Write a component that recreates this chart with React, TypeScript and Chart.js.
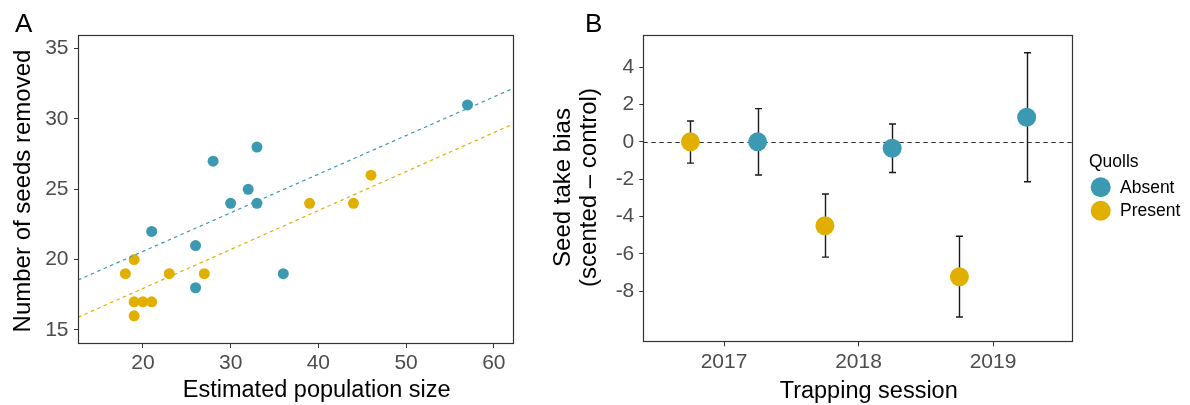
import React, { useEffect, useRef } from "react";
import { Chart, registerables } from "chart.js";

Chart.register(...registerables);

const FONT = "'Liberation Sans', Arial, Helvetica, sans-serif";
const BLUE = "#3B9AB2";
const GOLD = "#E1AF00";

// ---------- Panel A data ----------
const absentPopulation = [21, 26, 26, 28, 30, 32, 33, 33, 36, 57];
const absentSeeds = [22, 21, 18, 27, 24, 25, 24, 28, 19, 31];
const presentPopulation = [18, 19, 19, 19, 20, 21, 23, 27, 39, 44, 46];
const presentSeeds = [19, 20, 17, 16, 17, 17, 19, 19, 24, 24, 26];
const fitPopulation = [12.6, 62.3];
const absentFitSeeds = [18.55, 32.2];
const presentFitSeeds = [15.9, 29.67];
const popTicks = [20, 30, 40, 50, 60];
const popTickLabels = ["20", "30", "40", "50", "60"];
const seedTicks = [15, 20, 25, 30, 35];
const seedTickLabels = ["15", "20", "25", "30", "35"];

// ---------- Panel B data ----------
const sessions = [2017, 2018, 2019];
const sessionTickLabels = ["2017", "2018", "2019"];
const absentBias = [0, -0.34, 1.32];
const absentLow = [-1.78, -1.64, -2.14];
const absentHigh = [1.78, 0.96, 4.78];
const presentBias = [0, -4.5, -7.23];
const presentLow = [-1.14, -6.18, -9.39];
const presentHigh = [1.12, -2.8, -5.06];
const biasTicks = [-8, -6, -4, -2, 0, 2, 4];
const biasTickLabels = ["-8", "-6", "-4", "-2", "0", "2", "4"];
const dodge = 0.25;

type TextItem = {
  text: string;
  x: number;
  y: number;
  size: number;
  align?: CanvasTextAlign;
  rotate?: boolean;
  color?: string;
};

type ErrorBarSet = { x: number[]; lo: number[]; hi: number[] };

type DecorCfg = {
  texts: TextItem[];
  zeroLine?: boolean;
  errorBars?: ErrorBarSet[];
  legend?: { title: string; x: number; y: number; itemX: number; textX: number; firstY: number; step: number; r: number };
};

function makeDecor(cfg: DecorCfg) {
  return {
    id: "decor",
    beforeDatasetsDraw(chart: any) {
      const { ctx, chartArea: a, scales } = chart;
      ctx.save();
      if (cfg.zeroLine) {
        const y = Math.round(scales.y.getPixelForValue(0)) + 0.5;
        ctx.strokeStyle = "#333";
        ctx.lineWidth = 1;
        ctx.setLineDash([4.5, 3.5]);
        ctx.beginPath();
        ctx.moveTo(a.left, y);
        ctx.lineTo(a.right, y);
        ctx.stroke();
        ctx.setLineDash([]);
      }
      for (const eb of cfg.errorBars || []) {
        for (let i = 0; i < eb.x.length; i++) {
          const px = Math.round(scales.x.getPixelForValue(eb.x[i])) + 0.5;
          const yl = scales.y.getPixelForValue(eb.lo[i]);
          const yh = scales.y.getPixelForValue(eb.hi[i]);
          ctx.strokeStyle = "#1a1a1a";
          ctx.lineWidth = 1.4;
          ctx.beginPath();
          ctx.moveTo(px, yh);
          ctx.lineTo(px, yl);
          ctx.moveTo(px - 3.5, yh);
          ctx.lineTo(px + 3.5, yh);
          ctx.moveTo(px - 3.5, yl);
          ctx.lineTo(px + 3.5, yl);
          ctx.stroke();
        }
      }
      ctx.restore();
    },
    afterDraw(chart: any) {
      const { ctx, chartArea: a } = chart;
      ctx.save();
      // panel frame
      ctx.strokeStyle = "#333";
      ctx.lineWidth = 1.2;
      ctx.strokeRect(Math.round(a.left) + 0.5, Math.round(a.top) + 0.5, Math.round(a.right - a.left) - 1, Math.round(a.bottom - a.top) - 1);
      // texts
      for (const t of cfg.texts) {
        ctx.save();
        ctx.fillStyle = t.color || "#000";
        ctx.font = `${t.size}px ${FONT}`;
        ctx.textBaseline = "alphabetic";
        ctx.textAlign = t.align || "center";
        ctx.translate(t.x, t.y);
        if (t.rotate) ctx.rotate(-Math.PI / 2);
        ctx.fillText(t.text, 0, 0);
        ctx.restore();
      }
      // legend
      if (cfg.legend) {
        const L = cfg.legend;
        ctx.fillStyle = "#000";
        ctx.font = `17.5px ${FONT}`;
        ctx.textAlign = "left";
        ctx.textBaseline = "alphabetic";
        ctx.fillText(L.title, L.x, L.y);
        chart.data.datasets.forEach((ds: any, i: number) => {
          const cy = L.firstY + i * L.step;
          ctx.fillStyle = ds.backgroundColor;
          ctx.beginPath();
          ctx.arc(L.itemX, cy, L.r, 0, Math.PI * 2);
          ctx.fill();
          ctx.fillStyle = "#000";
          ctx.textBaseline = "middle";
          ctx.fillText(ds.label, L.textX, cy + 0.5);
        });
      }
      ctx.restore();
    },
  };
}

function axis(min: number, max: number, values: number[], labels: string[], size: { width?: number; height?: number }, padding: number) {
  return {
    type: "linear",
    min,
    max,
    afterBuildTicks: (s: any) => {
      s.ticks = values.map((v) => ({ value: v }));
    },
    afterFit: (s: any) => {
      if (size.width !== undefined) s.width = size.width;
      if (size.height !== undefined) s.height = size.height;
    },
    ticks: {
      autoSkip: false,
      maxRotation: 0,
      minRotation: 0,
      padding,
      color: "#4d4d4d",
      font: { family: FONT, size: 21 },
      callback: (_v: any, i: number) => labels[i],
    },
    grid: { display: true, drawOnChartArea: false, drawTicks: true, tickLength: 4, tickColor: "#333", tickWidth: 1 },
    border: { display: false },
    title: { display: false },
  };
}

const baseOptions = {
  responsive: false,
  animation: false,
  devicePixelRatio: 1,
  events: [],
  plugins: { legend: { display: false }, tooltip: { enabled: false }, title: { display: false } },
};

function buildA(): any {
  return {
    type: "scatter",
    data: {
      datasets: [
        {
          label: "Absent fit",
          data: fitPopulation.map((x, i) => ({ x, y: absentFitSeeds[i] })),
          showLine: true,
          borderColor: BLUE,
          borderWidth: 1.2,
          borderDash: [3.5, 3.5],
          pointRadius: 0,
          fill: false,
          order: 0,
        },
        {
          label: "Present fit",
          data: fitPopulation.map((x, i) => ({ x, y: presentFitSeeds[i] })),
          showLine: true,
          borderColor: GOLD,
          borderWidth: 1.2,
          borderDash: [3.5, 3.5],
          pointRadius: 0,
          fill: false,
          order: 0,
        },
        {
          label: "Absent",
          data: absentPopulation.map((x, i) => ({ x, y: absentSeeds[i] })),
          backgroundColor: BLUE,
          borderColor: BLUE,
          pointBorderWidth: 0,
          pointRadius: 5.5,
          order: 1,
        },
        {
          label: "Present",
          data: presentPopulation.map((x, i) => ({ x, y: presentSeeds[i] })),
          backgroundColor: GOLD,
          borderColor: GOLD,
          pointBorderWidth: 0,
          pointRadius: 5.5,
          order: 1,
        },
      ],
    },
    options: {
      ...baseOptions,
      layout: { padding: { top: 35, right: 26, left: 0, bottom: 0 } },
      scales: {
        x: axis(12.6, 62.3, popTicks, popTickLabels, { height: 61 }, 3),
        y: axis(14.0, 35.97, seedTicks, seedTickLabels, { width: 78 }, 5.5),
      },
    },
    plugins: [
      makeDecor({
        texts: [
          { text: "A", x: 15, y: 32, size: 26, align: "left" },
          { text: "Number of seeds removed", x: 29.5, y: 191, size: 24, rotate: true },
          { text: "Estimated population size", x: 316.7, y: 397.3, size: 23.5 },
        ],
      }),
    ],
  };
}

function buildB(): any {
  return {
    type: "scatter",
    data: {
      datasets: [
        {
          label: "Absent",
          data: sessions.map((s, i) => ({ x: s + dodge, y: absentBias[i] })),
          backgroundColor: BLUE,
          borderColor: BLUE,
          pointBorderWidth: 0,
          pointRadius: 9.5,
        },
        {
          label: "Present",
          data: sessions.map((s, i) => ({ x: s - dodge, y: presentBias[i] })),
          backgroundColor: GOLD,
          borderColor: GOLD,
          pointBorderWidth: 0,
          pointRadius: 9.5,
        },
      ],
    },
    options: {
      ...baseOptions,
      layout: { padding: { top: 35, right: 116.25, left: 0, bottom: 0 } },
      scales: {
        x: axis(2016.4, 2019.6, sessions, sessionTickLabels, { height: 62.7 }, 3),
        y: axis(-10.75, 5.73, biasTicks, biasTickLabels, { width: 103.3 }, 5),
      },
    },
    plugins: [
      makeDecor({
        zeroLine: true,
        errorBars: [
          { x: sessions.map((s) => s + dodge), lo: absentLow, hi: absentHigh },
          { x: sessions.map((s) => s - dodge), lo: presentLow, hi: presentHigh },
        ],
        texts: [
          { text: "B", x: 45, y: 32, size: 26, align: "left" },
          { text: "Seed take bias", x: 30, y: 187.5, size: 24, rotate: true },
          { text: "(scented \u2013 control)", x: 56, y: 187.5, size: 24, rotate: true },
          { text: "Trapping session", x: 328.7, y: 397.7, size: 23.5 },
        ],
        legend: { title: "Quolls", x: 549, y: 166.7, itemX: 560.7, textX: 580, firstY: 187.3, step: 23.4, r: 10 },
      }),
    ],
  };
}

function Panel({ left, width, build }: { left: number; width: number; build: () => any }) {
  const ref = useRef<HTMLCanvasElement>(null);
  useEffect(() => {
    const chart = new Chart(ref.current as HTMLCanvasElement, build());
    return () => chart.destroy();
  }, []);
  return (
    <canvas
      ref={ref}
      width={width}
      height={405}
      style={{ position: "absolute", left, top: 0, width, height: 405, display: "block" }}
    />
  );
}

export default function App() {
  return (
    <div style={{ position: "absolute", left: 0, top: 0, width: 1190, height: 405, background: "#fff", overflow: "hidden" }}>
      <Panel left={0} width={540} build={buildA} />
      <Panel left={540} width={650} build={buildB} />
    </div>
  );
}
